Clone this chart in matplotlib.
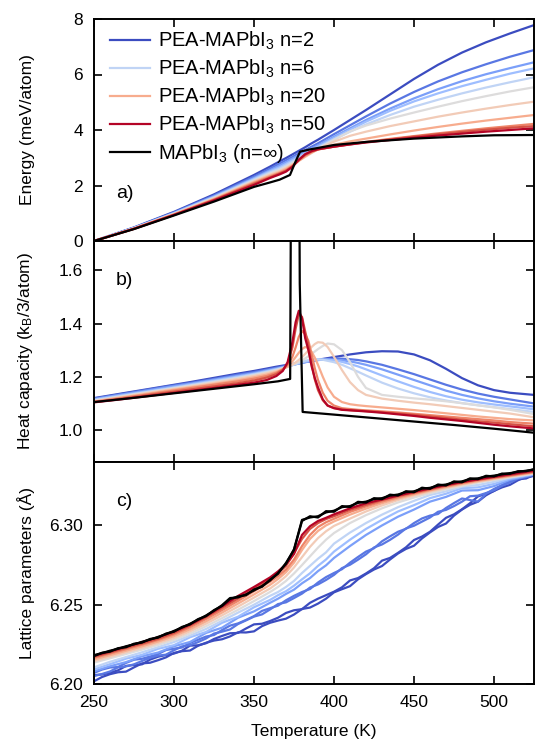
import matplotlib
matplotlib.use("Agg")
import matplotlib.pyplot as plt

plt.rcParams['font.family'] = ['Liberation Sans', 'DejaVu Sans']
plt.rcParams['mathtext.fontset'] = 'custom'
plt.rcParams['mathtext.rm'] = 'Liberation Sans'
plt.rcParams['mathtext.it'] = 'Liberation Sans:italic'

# ---------------------------------------------------------------- data
n_layers = [2, 3, 4, 5, 6, 10, 15, 20, 30, 40, 50]
legend_n = [2, 6, 20, 50]

# (a) energy, meV/atom
temp_e = [250, 275, 300, 325, 350, 360, 366, 370, 374, 378, 382, 386, 390,
          400, 410, 420, 435, 450, 465, 480, 495, 510, 525]
e_n2 = [0, 0.49, 1.05, 1.68, 2.38, 2.68, 2.87, 2.99, 3.12, 3.25, 3.38, 3.52, 3.65,
        4.00, 4.36, 4.72, 5.28, 5.84, 6.35, 6.79, 7.16, 7.48, 7.78]
e_n3 = [0, 0.48, 1.03, 1.64, 2.32, 2.61, 2.79, 2.91, 3.03, 3.16, 3.28, 3.40, 3.52,
        3.85, 4.17, 4.49, 4.95, 5.37, 5.75, 6.08, 6.37, 6.64, 6.88]
e_n4 = [0, 0.47, 1.01, 1.61, 2.27, 2.55, 2.72, 2.84, 2.97, 3.09, 3.21, 3.33, 3.45,
        3.76, 4.06, 4.36, 4.77, 5.14, 5.47, 5.76, 6.01, 6.23, 6.44]
e_n5 = [0, 0.47, 1.00, 1.59, 2.24, 2.51, 2.66, 2.78, 2.91, 3.03, 3.16, 3.28, 3.40,
        3.71, 4.01, 4.30, 4.69, 5.03, 5.32, 5.58, 5.81, 6.03, 6.22]
e_n6 = [0, 0.46, 0.99, 1.57, 2.21, 2.47, 2.61, 2.73, 2.86, 2.99, 3.12, 3.24, 3.36,
        3.66, 3.94, 4.20, 4.54, 4.84, 5.09, 5.32, 5.53, 5.72, 5.90]
e_n10 = [0, 0.46, 0.98, 1.55, 2.18, 2.43, 2.56, 2.68, 2.81, 2.94, 3.07, 3.20, 3.33,
         3.65, 3.95, 4.16, 4.41, 4.63, 4.84, 5.04, 5.22, 5.39, 5.54]
e_n15 = [0, 0.45, 0.97, 1.53, 2.15, 2.39, 2.52, 2.63, 2.76, 2.89, 3.03, 3.17, 3.31,
         3.58, 3.79, 3.94, 4.14, 4.31, 4.48, 4.63, 4.77, 4.90, 5.02]
e_n20 = [0, 0.45, 0.96, 1.51, 2.12, 2.35, 2.48, 2.59, 2.73, 2.89, 3.05, 3.19, 3.30,
         3.47, 3.59, 3.69, 3.84, 3.98, 4.11, 4.23, 4.34, 4.44, 4.54]
e_n30 = [0, 0.44, 0.95, 1.49, 2.09, 2.32, 2.45, 2.55, 2.70, 2.90, 3.08, 3.21, 3.30,
         3.40, 3.49, 3.57, 3.68, 3.78, 3.88, 3.97, 4.06, 4.14, 4.22]
e_n40 = [0, 0.44, 0.94, 1.48, 2.06, 2.29, 2.43, 2.53, 2.69, 2.92, 3.11, 3.23, 3.30,
         3.40, 3.48, 3.56, 3.66, 3.76, 3.85, 3.93, 4.01, 4.08, 4.14]
e_n50 = [0, 0.44, 0.94, 1.46, 2.02, 2.27, 2.40, 2.50, 2.67, 2.93, 3.13, 3.24, 3.31,
         3.40, 3.48, 3.55, 3.64, 3.72, 3.80, 3.87, 3.94, 4.00, 4.06]
temp_e_bulk = [250, 275, 300, 325, 350, 360, 366, 372.5, 375.5, 378.8, 385, 400,
               420, 450, 480, 500, 525]
e_bulk = [0, 0.43, 0.92, 1.42, 1.95, 2.11, 2.21, 2.38, 2.80, 3.22, 3.30, 3.46,
          3.57, 3.69, 3.77, 3.81, 3.82]

# (b) heat capacity, kB/3 per atom
temp_cp = [250, 265, 280, 295, 310, 325, 340, 350, 358, 364, 368, 371, 374, 376,
           378, 380, 382, 384, 386, 388, 390, 393, 396, 400, 405, 410, 415, 420,
           430, 440, 450, 460, 470, 480, 490, 500, 510, 525]
cp_n2 = [1.120, 1.135, 1.150, 1.165, 1.180, 1.196, 1.212, 1.222, 1.231, 1.238,
         1.242, 1.245, 1.248, 1.250, 1.252, 1.254, 1.256, 1.258, 1.260, 1.262,
         1.264, 1.267, 1.270, 1.274, 1.279, 1.284, 1.288, 1.292, 1.296, 1.295,
         1.284, 1.262, 1.230, 1.195, 1.168, 1.150, 1.140, 1.132]
cp_n3 = [1.118, 1.133, 1.148, 1.163, 1.177, 1.192, 1.208, 1.218, 1.227, 1.234,
         1.239, 1.242, 1.246, 1.248, 1.250, 1.253, 1.255, 1.257, 1.259, 1.261,
         1.263, 1.265, 1.267, 1.268, 1.268, 1.266, 1.263, 1.258, 1.245, 1.228,
         1.210, 1.190, 1.170, 1.152, 1.137, 1.125, 1.115, 1.100]
cp_n4 = [1.116, 1.131, 1.145, 1.160, 1.174, 1.189, 1.204, 1.214, 1.224, 1.231,
         1.236, 1.240, 1.244, 1.247, 1.250, 1.252, 1.255, 1.257, 1.259, 1.261,
         1.263, 1.264, 1.265, 1.264, 1.262, 1.258, 1.252, 1.245, 1.228, 1.208,
         1.188, 1.168, 1.148, 1.132, 1.119, 1.108, 1.099, 1.088]
cp_n5 = [1.114, 1.128, 1.142, 1.156, 1.171, 1.186, 1.201, 1.211, 1.221, 1.229,
         1.235, 1.239, 1.244, 1.247, 1.251, 1.254, 1.257, 1.259, 1.261, 1.263,
         1.264, 1.265, 1.264, 1.262, 1.256, 1.248, 1.239, 1.228, 1.205, 1.183,
         1.162, 1.143, 1.127, 1.114, 1.104, 1.096, 1.089, 1.078]
cp_n6 = [1.112, 1.126, 1.140, 1.154, 1.168, 1.183, 1.198, 1.209, 1.219, 1.227,
         1.233, 1.238, 1.244, 1.248, 1.252, 1.256, 1.260, 1.263, 1.265, 1.266,
         1.266, 1.264, 1.260, 1.255, 1.245, 1.232, 1.219, 1.205, 1.178, 1.156,
         1.138, 1.123, 1.111, 1.101, 1.093, 1.086, 1.079, 1.068]
cp_n10 = [1.110, 1.124, 1.138, 1.152, 1.166, 1.180, 1.195, 1.206, 1.216, 1.225,
          1.232, 1.238, 1.245, 1.250, 1.256, 1.262, 1.269, 1.277, 1.286, 1.295,
          1.304, 1.316, 1.325, 1.322, 1.300, 1.255, 1.200, 1.158, 1.132, 1.125,
          1.119, 1.114, 1.108, 1.101, 1.093, 1.085, 1.076, 1.060]
cp_n15 = [1.108, 1.122, 1.136, 1.150, 1.163, 1.177, 1.192, 1.203, 1.213, 1.222,
          1.230, 1.237, 1.246, 1.254, 1.263, 1.274, 1.286, 1.299, 1.312, 1.323,
          1.330, 1.328, 1.312, 1.275, 1.225, 1.180, 1.150, 1.132, 1.118, 1.110,
          1.103, 1.097, 1.090, 1.083, 1.076, 1.069, 1.062, 1.048]
cp_n20 = [1.107, 1.120, 1.133, 1.147, 1.160, 1.173, 1.187, 1.198, 1.208, 1.218,
          1.228, 1.240, 1.258, 1.274, 1.290, 1.304, 1.312, 1.308, 1.294, 1.272,
          1.245, 1.200, 1.160, 1.125, 1.105, 1.097, 1.093, 1.090, 1.085, 1.080,
          1.075, 1.069, 1.063, 1.057, 1.051, 1.046, 1.041, 1.036]
cp_n30 = [1.106, 1.118, 1.131, 1.144, 1.157, 1.170, 1.183, 1.193, 1.203, 1.215,
          1.228, 1.245, 1.275, 1.310, 1.350, 1.372, 1.360, 1.335, 1.285, 1.232,
          1.188, 1.140, 1.110, 1.092, 1.082, 1.079, 1.076, 1.074, 1.070, 1.066,
          1.061, 1.056, 1.051, 1.046, 1.041, 1.036, 1.030, 1.024]
cp_n40 = [1.105, 1.116, 1.128, 1.140, 1.152, 1.164, 1.176, 1.186, 1.197, 1.210,
          1.226, 1.250, 1.310, 1.380, 1.435, 1.425, 1.370, 1.320, 1.250, 1.190,
          1.150, 1.112, 1.092, 1.083, 1.077, 1.075, 1.073, 1.071, 1.067, 1.062,
          1.057, 1.051, 1.045, 1.039, 1.033, 1.028, 1.022, 1.014]
cp_n50 = [1.104, 1.114, 1.125, 1.136, 1.147, 1.158, 1.170, 1.178, 1.188, 1.203,
          1.222, 1.255, 1.330, 1.405, 1.448, 1.420, 1.345, 1.300, 1.240, 1.195,
          1.160, 1.115, 1.092, 1.082, 1.076, 1.074, 1.072, 1.070, 1.065, 1.059,
          1.053, 1.046, 1.040, 1.034, 1.027, 1.020, 1.014, 1.006]
temp_cp_bulk = [250, 275, 300, 325, 350, 365, 372.6, 373.5, 377.9, 378.6, 380.4,
                400, 425, 450, 475, 500, 525]
cp_bulk = [1.105, 1.121, 1.138, 1.155, 1.172, 1.183, 1.192, 2.5, 2.5, 1.55, 1.068,
           1.058, 1.045, 1.032, 1.019, 1.005, 0.990]

# (c) lattice parameters, Angstrom
temp_lat = [250, 260, 270, 280, 290, 300, 310, 320, 330, 340, 350, 360, 365, 370,
            375, 380, 385, 390, 395, 400, 410, 420, 430, 440, 450, 460, 470, 480,
            490, 500, 510, 525]
temp_lat_fine = list(range(250, 526, 5))
lat_n2_a = [6.2056, 6.2060, 6.2071, 6.2086, 6.2114, 6.2120, 6.2124, 6.2154, 6.2172, 6.2183,
            6.2192, 6.2210, 6.2242, 6.2244, 6.2257, 6.2284, 6.2303, 6.2320, 6.2322, 6.2350,
            6.2376, 6.2380, 6.2397, 6.2418, 6.2448, 6.2465, 6.2472, 6.2512, 6.2538, 6.2560,
            6.2582, 6.2610, 6.2653, 6.2668, 6.2697, 6.2730, 6.2778, 6.2795, 6.2827, 6.2862,
            6.2908, 6.2930, 6.2960, 6.3005, 6.3048, 6.3070, 6.3102, 6.3140, 6.3183, 6.3200,
            6.3217, 6.3250, 6.3278, 6.3292, 6.3296, 6.3318]
lat_n2_b = [6.2017, 6.2044, 6.2062, 6.2074, 6.2078, 6.2105, 6.2130, 6.2134, 6.2150, 6.2168,
            6.2196, 6.2207, 6.2211, 6.2241, 6.2260, 6.2274, 6.2282, 6.2300, 6.2326, 6.2325,
            6.2332, 6.2365, 6.2386, 6.2400, 6.2412, 6.2438, 6.2473, 6.2482, 6.2507, 6.2538,
            6.2578, 6.2598, 6.2617, 6.2660, 6.2693, 6.2722, 6.2744, 6.2785, 6.2823, 6.2852,
            6.2872, 6.2918, 6.2956, 6.2990, 6.3012, 6.3062, 6.3100, 6.3130, 6.3150, 6.3190,
            6.3218, 6.3240, 6.3256, 6.3285, 6.3304, 6.3312]
lat_n3_a = [6.2070, 6.2091, 6.2104, 6.2107, 6.2133, 6.2153, 6.2159, 6.2173, 6.2189, 6.2214,
            6.2223, 6.2230, 6.2259, 6.2279, 6.2299, 6.2309, 6.2340, 6.2368, 6.2382, 6.2404,
            6.2428, 6.2461, 6.2478, 6.2494, 6.2528, 6.2556, 6.2580, 6.2599, 6.2640, 6.2674,
            6.2700, 6.2724, 6.2765, 6.2801, 6.2835, 6.2856, 6.2900, 6.2931, 6.2960, 6.2979,
            6.3015, 6.3044, 6.3062, 6.3072, 6.3110, 6.3141, 6.3170, 6.3160, 6.3150, 6.3200,
            6.3230, 6.3255, 6.3280, 6.3300, 6.3310, 6.3325]
lat_n3_b = [6.2050, 6.2063, 6.2079, 6.2105, 6.2111, 6.2124, 6.2145, 6.2165, 6.2179, 6.2185,
            6.2213, 6.2237, 6.2245, 6.2264, 6.2287, 6.2318, 6.2330, 6.2344, 6.2378, 6.2401,
            6.2425, 6.2439, 6.2470, 6.2504, 6.2515, 6.2542, 6.2570, 6.2608, 6.2628, 6.2656,
            6.2688, 6.2731, 6.2752, 6.2784, 6.2818, 6.2861, 6.2880, 6.2909, 6.2942, 6.2981,
            6.2998, 6.3024, 6.3050, 6.3086, 6.3098, 6.3122, 6.3150, 6.3184, 6.3188, 6.3204,
            6.3222, 6.3250, 6.3270, 6.3295, 6.3305, 6.3318]
lat_n4 = [6.2080, 6.2112, 6.2138, 6.2175, 6.2198, 6.2238, 6.2265, 6.2322, 6.2355, 6.2418,
          6.2458, 6.2512, 6.2538, 6.2568, 6.2595, 6.2635, 6.2668, 6.2712, 6.2748, 6.2795,
          6.2870, 6.2940, 6.3000, 6.3055, 6.3100, 6.3150, 6.3180, 6.3220, 6.3222, 6.3248,
          6.3288, 6.3322]
lat_n5 = [6.2092, 6.2125, 6.2160, 6.2184, 6.2222, 6.2245, 6.2295, 6.2328, 6.2386, 6.2424,
          6.2484, 6.2530, 6.2560, 6.2585, 6.2620, 6.2660, 6.2698, 6.2745, 6.2785, 6.2835,
          6.2910, 6.2978, 6.3035, 6.3088, 6.3128, 6.3172, 6.3200, 6.3235, 6.3240, 6.3262,
          6.3295, 6.3324]
lat_n6 = [6.2105, 6.2140, 6.2170, 6.2200, 6.2232, 6.2265, 6.2305, 6.2347, 6.2398, 6.2450,
          6.2500, 6.2556, 6.2580, 6.2612, 6.2650, 6.2700, 6.2745, 6.2790, 6.2830, 6.2885,
          6.2955, 6.3015, 6.3068, 6.3115, 6.3155, 6.3192, 6.3215, 6.3245, 6.3255, 6.3275,
          6.3302, 6.3327]
lat_n10 = [6.2135, 6.2162, 6.2189, 6.2217, 6.2246, 6.2278, 6.2318, 6.2364, 6.2415, 6.2468,
           6.2523, 6.2580, 6.2612, 6.2650, 6.2697, 6.2750, 6.2805, 6.2860, 6.2910, 6.2952,
           6.3015, 6.3065, 6.3108, 6.3145, 6.3176, 6.3203, 6.3228, 6.3250, 6.3270, 6.3287,
           6.3303, 6.3328]
lat_n15 = [6.2145, 6.2172, 6.2200, 6.2228, 6.2258, 6.2290, 6.2332, 6.2380, 6.2433, 6.2488,
           6.2545, 6.2602, 6.2638, 6.2680, 6.2735, 6.2800, 6.2865, 6.2920, 6.2963, 6.2997,
           6.3043, 6.3088, 6.3126, 6.3160, 6.3188, 6.3213, 6.3236, 6.3257, 6.3276, 6.3292,
           6.3308, 6.3331]
lat_n20 = [6.2155, 6.2182, 6.2210, 6.2238, 6.2268, 6.2302, 6.2345, 6.2395, 6.2450, 6.2507,
           6.2565, 6.2625, 6.2662, 6.2705, 6.2765, 6.2845, 6.2915, 6.2965, 6.3000, 6.3025,
           6.3068, 6.3106, 6.3140, 6.3170, 6.3196, 6.3220, 6.3242, 6.3262, 6.3280, 6.3296,
           6.3311, 6.3334]
lat_n30 = [6.2165, 6.2192, 6.2220, 6.2248, 6.2278, 6.2313, 6.2358, 6.2410, 6.2466, 6.2524,
           6.2585, 6.2645, 6.2680, 6.2722, 6.2785, 6.2870, 6.2940, 6.2990, 6.3020, 6.3042,
           6.3085, 6.3120, 6.3151, 6.3178, 6.3202, 6.3225, 6.3247, 6.3267, 6.3285, 6.3300,
           6.3315, 6.3337]
lat_n40 = [6.2172, 6.2199, 6.2228, 6.2255, 6.2285, 6.2322, 6.2369, 6.2422, 6.2480, 6.2539,
           6.2600, 6.2662, 6.2698, 6.2745, 6.2825, 6.2915, 6.2978, 6.3015, 6.3040, 6.3058,
           6.3098, 6.3130, 6.3160, 6.3185, 6.3208, 6.3230, 6.3252, 6.3272, 6.3289, 6.3304,
           6.3318, 6.3340]
lat_n50 = [6.2178, 6.2206, 6.2235, 6.2264, 6.2295, 6.2331, 6.2375, 6.2428, 6.2490, 6.2555,
           6.2612, 6.2672, 6.2710, 6.2755, 6.2820, 6.2940, 6.2995, 6.3028, 6.3048, 6.3070,
           6.3108, 6.3140, 6.3164, 6.3189, 6.3212, 6.3234, 6.3255, 6.3274, 6.3291, 6.3307,
           6.3323, 6.3346]
lat_bulk_a = [6.2182, 6.2195, 6.2210, 6.2222, 6.2238, 6.2250, 6.2266, 6.2280, 6.2297, 6.2314,
              6.2335, 6.2356, 6.2380, 6.2405, 6.2432, 6.2462, 6.2497, 6.2542, 6.2546, 6.2565,
              6.2590, 6.2618, 6.2652, 6.2700, 6.2758, 6.2850, 6.3035, 6.3050, 6.3058, 6.3082,
              6.3093, 6.3115, 6.3122, 6.3142, 6.3150, 6.3166, 6.3172, 6.3188, 6.3195, 6.3210,
              6.3215, 6.3232, 6.3237, 6.3252, 6.3258, 6.3272, 6.3278, 6.3292, 6.3297, 6.3308,
              6.3314, 6.3322, 6.3330, 6.3338, 6.3345, 6.3352]
lat_bulk_b = [6.2176, 6.2197, 6.2204, 6.2226, 6.2232, 6.2254, 6.2261, 6.2284, 6.2292, 6.2318,
              6.2330, 6.2360, 6.2376, 6.2409, 6.2428, 6.2466, 6.2492, 6.2536, 6.2552, 6.2560,
              6.2596, 6.2613, 6.2658, 6.2695, 6.2764, 6.2845, 6.3028, 6.3058, 6.3050, 6.3090,
              6.3086, 6.3122, 6.3116, 6.3149, 6.3144, 6.3172, 6.3166, 6.3194, 6.3189, 6.3216,
              6.3209, 6.3238, 6.3231, 6.3258, 6.3252, 6.3278, 6.3272, 6.3297, 6.3292, 6.3313,
              6.3309, 6.3327, 6.3326, 6.3342, 6.3342, 6.3355]

energy_series = [e_n2, e_n3, e_n4, e_n5, e_n6, e_n10, e_n15, e_n20, e_n30, e_n40, e_n50]
cp_series = [cp_n2, cp_n3, cp_n4, cp_n5, cp_n6, cp_n10, cp_n15, cp_n20, cp_n30, cp_n40, cp_n50]
lat_series = [(temp_lat_fine, [lat_n2_a, lat_n2_b]),
              (temp_lat_fine, [lat_n3_a, lat_n3_b]),
              (temp_lat, [lat_n4]), (temp_lat, [lat_n5]), (temp_lat, [lat_n6]),
              (temp_lat, [lat_n10]), (temp_lat, [lat_n15]), (temp_lat, [lat_n20]),
              (temp_lat, [lat_n30]), (temp_lat, [lat_n40]), (temp_lat, [lat_n50])]

# ---------------------------------------------------------------- figure
fig = plt.figure(figsize=(5.35, 7.43), dpi=100)
left, width = 94 / 535, 440 / 535
ax_e = fig.add_axes([left, 1 - 241 / 743, width, 222 / 743])
ax_cp = fig.add_axes([left, 1 - 462 / 743, width, 221 / 743])
ax_lat = fig.add_axes([left, 1 - 684 / 743, width, 222 / 743])

cmap = plt.get_cmap('coolwarm')
colors = [cmap(i / (len(n_layers) - 1)) for i in range(len(n_layers))]
lw = 1.6

for n, col, e_vals, cp_vals, (t_lat, lat_lines) in zip(
        n_layers, colors, energy_series, cp_series, lat_series):
    label = f'PEA-MAPbI$_3$ n={n}' if n in legend_n else None
    ax_e.plot(temp_e, e_vals, color=col, lw=lw, label=label)
    ax_cp.plot(temp_cp, cp_vals, color=col, lw=lw)
    for vals in lat_lines:
        ax_lat.plot(t_lat, vals, color=col, lw=lw)

ax_e.plot(temp_e_bulk, e_bulk, color='black', lw=lw, label='MAPbI$_3$ (n=\u221e)')
ax_cp.plot(temp_cp_bulk, cp_bulk, color='black', lw=lw)
ax_lat.plot(temp_lat_fine, lat_bulk_a, color='black', lw=lw)
ax_lat.plot(temp_lat_fine, lat_bulk_b, color='black', lw=lw)

tick_fs = 12.5
label_fs = 12.5
panel_fs = 14
for ax in (ax_e, ax_cp, ax_lat):
    ax.set_xlim(250, 525)
    ax.set_xticks([250, 300, 350, 400, 450, 500])
    ax.tick_params(direction='in', top=True, right=True, length=6, width=1.2,
                   labelsize=tick_fs, pad=8)
    for sp in ax.spines.values():
        sp.set_linewidth(1.4)
    ax.yaxis.set_label_coords(-0.135, 0.5)

ax_e.tick_params(labelbottom=False)
ax_cp.tick_params(labelbottom=False)

ax_e.set_ylim(0, 8)
ax_e.set_yticks([0, 2, 4, 6, 8])
ax_cp.set_ylim(0.88, 1.71)
ax_cp.set_yticks([1.0, 1.2, 1.4, 1.6])
ax_lat.set_ylim(6.20, 6.34)
ax_lat.set_yticks([6.20, 6.25, 6.30])
ax_lat.ticklabel_format(axis='y', useOffset=False)

ax_e.set_ylabel('Energy (meV/atom)', fontsize=label_fs)
ax_cp.set_ylabel('Heat capacity (k$_\\mathrm{B}$/3/atom)', fontsize=label_fs)
ax_lat.set_ylabel('Lattice parameters (\u00c5)', fontsize=label_fs)
ax_lat.set_xlabel('Temperature (K)', fontsize=label_fs, labelpad=10)

ax_e.text(0.05, 0.215, 'a)', transform=ax_e.transAxes, fontsize=panel_fs, va='center')
ax_cp.text(0.05, 0.82, 'b)', transform=ax_cp.transAxes, fontsize=panel_fs, va='center')
ax_lat.text(0.05, 0.82, 'c)', transform=ax_lat.transAxes, fontsize=panel_fs, va='center')

ax_e.legend(loc='upper left', bbox_to_anchor=(0.036, 0.95), frameon=False,
            fontsize=14.5, handlelength=2.0, handletextpad=0.4,
            labelspacing=0.28, borderpad=0, borderaxespad=0)

fig.savefig('out.png', dpi=100)
